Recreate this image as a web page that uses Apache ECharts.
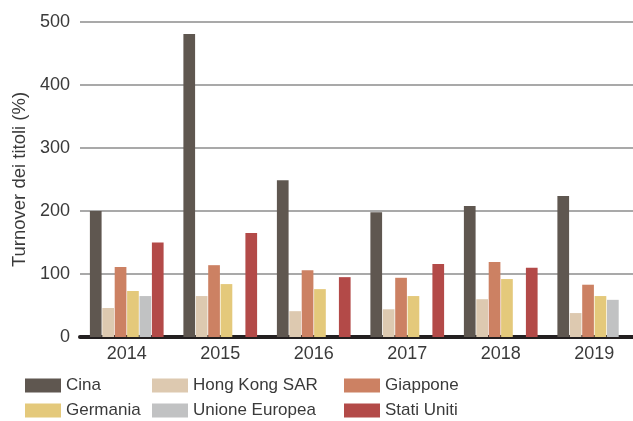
<!DOCTYPE html>
<html>
<head>
<meta charset="utf-8">
<script src="https://cdn.jsdelivr.net/npm/echarts@6/dist/echarts.min.js"></script>
<style>html,body{margin:0;padding:0;background:#fff;overflow:hidden}#c{width:641px;height:421px}</style>
</head>
<body>
<div id="c"></div>
<script>
var years = ['2014', '2015', '2016', '2017', '2018', '2019'];
var cina = [200, 481, 249, 198, 208, 224];
var hongKong = [46, 65, 41, 44, 60, 38];
var giappone = [111, 114, 106, 94, 119, 83];
var germania = [73, 84, 76, 65, 92, 65];
var unioneEuropea = [65, null, null, null, null, 59];
var statiUniti = [150, 165, 95, 116, 110, null];
var yTicks = [0, 100, 200, 300, 400, 500];

var FONT = "'Liberation Sans', sans-serif";
var TXT = '#3a3a3a';

var seriesDefs = [
  { name: 'Cina', data: cina, color: '#5f5750' },
  { name: 'Hong Kong SAR', data: hongKong, color: '#ddc9b0' },
  { name: 'Giappone', data: giappone, color: '#cc8163' },
  { name: 'Germania', data: germania, color: '#e4c97b' },
  { name: 'Unione Europea', data: unioneEuropea, color: '#c1c2c3' },
  { name: 'Stati Uniti', data: statiUniti, color: '#b34a48' }
];

var legendPos = [
  [25, 377], [152, 377], [344, 377],
  [25, 402], [152, 402], [344, 402]
];

var chart = echarts.init(document.getElementById('c'), null, { renderer: 'canvas' });
chart.setOption({
  animation: false,
  backgroundColor: '#fff',
  textStyle: { fontFamily: FONT },
  grid: { left: 80, right: 0, top: 22, bottom: 84, containLabel: false },
  legend: seriesDefs.map(function (s, i) {
    return {
      data: [s.name],
      left: legendPos[i][0],
      top: legendPos[i][1],
      padding: 0,
      itemWidth: 36,
      itemHeight: 14,
      icon: 'rect',
      selectedMode: false,
      textStyle: { fontFamily: FONT, fontSize: 17, color: TXT }
    };
  }),
  xAxis: {
    type: 'category',
    data: years,
    axisTick: { show: false },
    axisLine: { show: true, lineStyle: { color: '#231f20', width: 4 } },
    axisLabel: { fontFamily: FONT, fontSize: 18, color: TXT, margin: 8 },
    splitLine: { show: false }
  },
  yAxis: {
    type: 'value',
    min: yTicks[0],
    max: yTicks[yTicks.length - 1],
    interval: 100,
    name: 'Turnover dei titoli (%)',
    nameLocation: 'middle',
    nameGap: 46,
    nameTextStyle: { fontFamily: FONT, fontSize: 18.5, color: TXT },
    axisLine: { show: false },
    axisTick: { show: false },
    axisLabel: { fontFamily: FONT, fontSize: 18, color: TXT, margin: 10 },
    splitLine: { show: true, lineStyle: { color: '#8c8c8c', width: 1.5 } }
  },
  series: seriesDefs.map(function (s) {
    return {
      type: 'bar',
      name: s.name,
      data: s.data,
      barWidth: 11.7,
      barGap: '6%',
      itemStyle: { color: s.color },
      emphasis: { disabled: true }
    };
  })
});
</script>
</body>
</html>
